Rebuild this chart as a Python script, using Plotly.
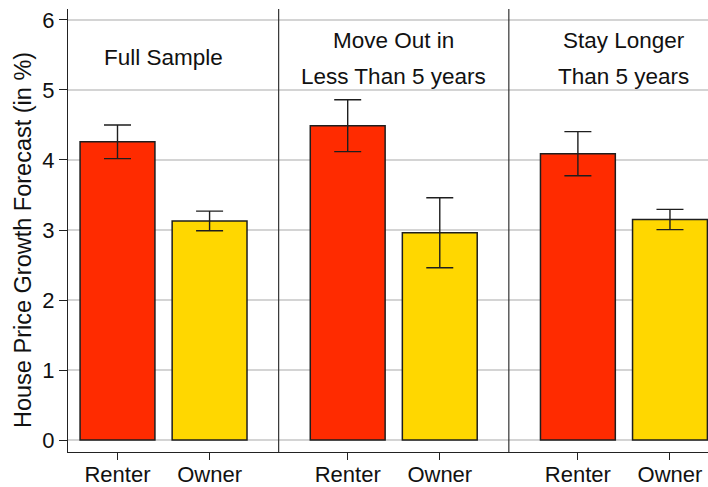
import plotly.graph_objects as go

# Survey groups and the two household types
group_titles = [["Full Sample"], ["Move Out in", "Less Than 5 years"], ["Stay Longer", "Than 5 years"]]
tenure_labels = ["Renter", "Owner"]

# Mean house price growth forecast (in %) and half-width of the error bars
renter_mean = [4.26, 4.49, 4.09]
renter_err = [0.24, 0.37, 0.315]
owner_mean = [3.13, 2.96, 3.15]
owner_err = [0.14, 0.50, 0.145]

y_ticks = [0, 1, 2, 3, 4, 5, 6]

# Layout of the categorical positions
GROUP_STEP = 2.5
renter_x = [1 + i * GROUP_STEP for i in range(len(group_titles))]
owner_x = [2 + i * GROUP_STEP for i in range(len(group_titles))]
dividers = [2.75 + i * GROUP_STEP for i in range(len(group_titles) - 1)]
centers = [1.5 + i * GROUP_STEP for i in range(len(group_titles))]

FONT = "Liberation Sans, Arial, Helvetica, sans-serif"
RED = "#FF2B00"
YELLOW = "#FFD700"
EDGE = "#1e1e1e"
BAR_W = 0.813

err_style = dict(type="data", visible=True, color="#1e1e1e", thickness=1.4, width=13.5)

fig = go.Figure()
fig.add_trace(go.Bar(
    x=renter_x, y=renter_mean, width=BAR_W,
    marker=dict(color=RED, line=dict(color=EDGE, width=1.5)),
    error_y=dict(array=renter_err, **err_style),
    name="Renter", showlegend=False,
))
fig.add_trace(go.Bar(
    x=owner_x, y=owner_mean, width=BAR_W,
    marker=dict(color=YELLOW, line=dict(color=EDGE, width=1.5)),
    error_y=dict(array=owner_err, **err_style),
    name="Owner", showlegend=False,
))

# Vertical separators between the groups
for xd in dividers:
    fig.add_shape(type="line", xref="x", yref="paper", x0=xd, x1=xd, y0=0, y1=1,
                  line=dict(color="#333333", width=1.2), layer="above")

# Group headings
annotations = []
for cx, lines in zip(centers, group_titles):
    if len(lines) == 1:
        ys = [5.47]
    else:
        ys = [5.71, 5.19]
    for txt, yy in zip(lines, ys):
        annotations.append(dict(x=cx, y=yy, xref="x", yref="y", text=txt, showarrow=False,
                                xanchor="center", yanchor="middle",
                                font=dict(family=FONT, size=22.5, color="#111111")))

# Y axis title
annotations.append(dict(x=-0.0703, y=0.4786, xref="paper", yref="paper",
                        text="House Price Growth Forecast (in %)", textangle=-90,
                        showarrow=False, xanchor="center", yanchor="middle",
                        font=dict(family=FONT, size=23.5, color="#111111")))

fig.update_layout(
    width=708, height=487,
    margin=dict(l=68, r=0, t=9, b=35, autoexpand=False),
    paper_bgcolor="white", plot_bgcolor="white",
    barmode="overlay",
    annotations=annotations,
    xaxis=dict(
        range=[0.4624, 7.413],
        automargin=False,
        tickmode="array",
        tickvals=renter_x + owner_x,
        ticktext=[tenure_labels[0]] * len(renter_x) + [tenure_labels[1]] * len(owner_x),
        ticks="outside", ticklen=7, tickwidth=1.2, tickcolor="#222222",
        ticklabelstandoff=-5,
        showline=True, linecolor="#222222", linewidth=1.2,
        showgrid=False, zeroline=False,
        tickfont=dict(family=FONT, size=22, color="#111111"),
    ),
    yaxis=dict(
        range=[-0.1714, 6.157],
        automargin=False,
        tickmode="array", tickvals=y_ticks,
        ticks="outside", ticklen=8, tickwidth=1.2, tickcolor="#222222",
        showline=True, linecolor="#222222", linewidth=1.2,
        showgrid=True, gridcolor="#d4d4d4", gridwidth=1.5,
        zeroline=False,
        tickfont=dict(family=FONT, size=22, color="#111111"),
    ),
)

fig.write_html("out.html")
